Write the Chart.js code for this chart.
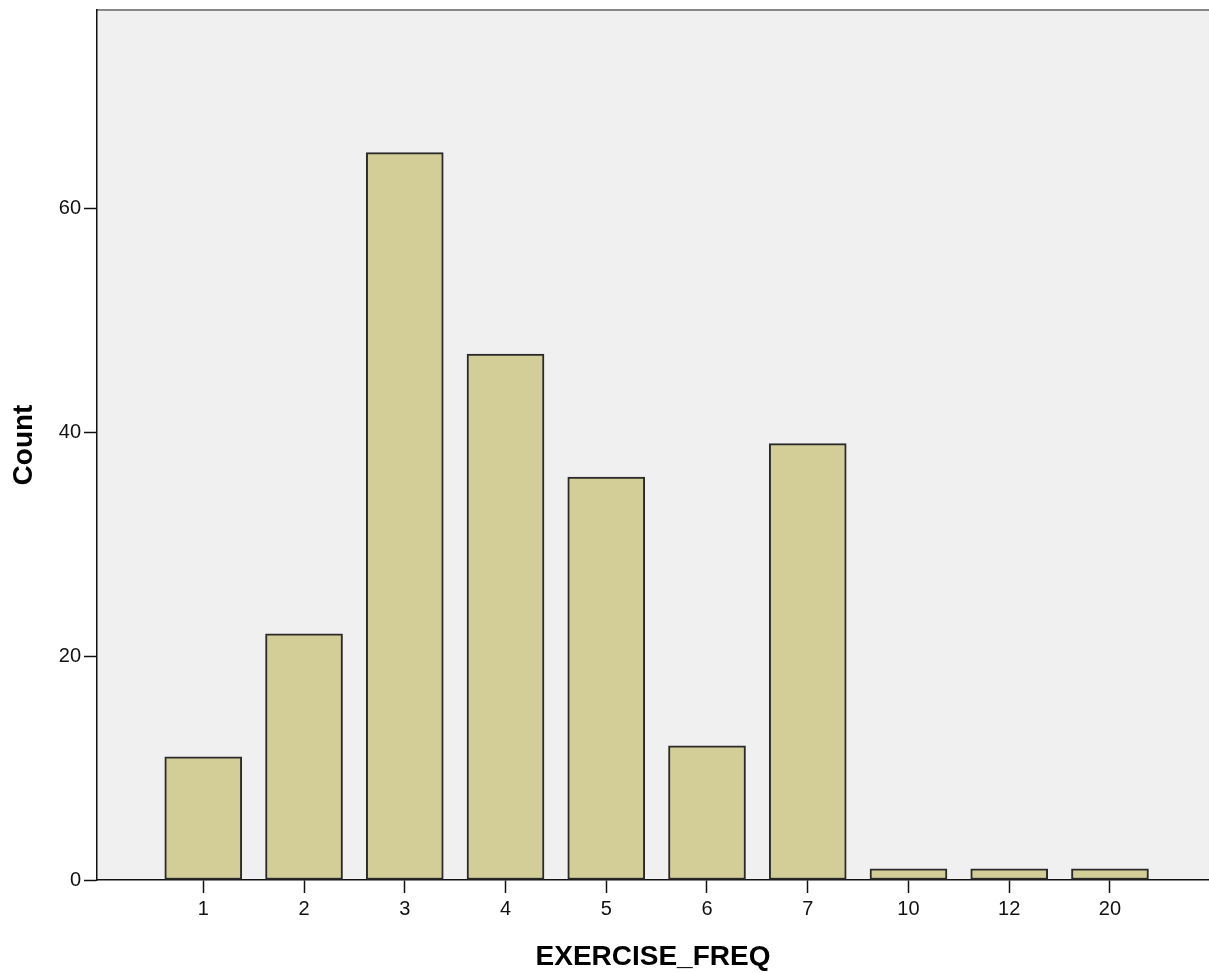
<!DOCTYPE html>
<html>
<head>
    <title>EXERCISE_FREQ</title>
    <script src="https://cdn.jsdelivr.net/npm/chart.js"></script>
    <style>
        body {
            margin: 0;
            background: #ffffff;
        }
        .chart-box {
            width: 1209px;
            height: 973px;
            position: relative;
        }
    </style>
</head>
<body>
    <div class="chart-box">
        <canvas id="freq-chart"></canvas>
    </div>

    <script>
        // categories and counts
        const freqLabels = ['1', '2', '3', '4', '5', '6', '7', '10', '12', '20'];
        const freqCounts = [11, 22, 65, 47, 36, 12, 39, 1, 1, 1];
        const countTicks = [0, 20, 40, 60];

        const points = freqLabels.map((lab, i) => ({ x: i + 1, y: freqCounts[i] }));

        // grey plot background and the thin grey frame line on top
        const plotFrame = {
            id: 'plotFrame',
            beforeDraw(chart) {
                const { ctx, chartArea: a } = chart;
                ctx.save();
                ctx.fillStyle = '#f0f0f0';
                ctx.fillRect(a.left, a.top, a.right - a.left, a.bottom - a.top);
                ctx.strokeStyle = '#888888';
                ctx.lineWidth = 2;
                ctx.beginPath();
                ctx.moveTo(a.left, a.top);
                ctx.lineTo(a.right, a.top);
                ctx.stroke();
                ctx.restore();
            }
        };

        const ctx = document.getElementById('freq-chart').getContext('2d');
        new Chart(ctx, {
            type: 'bar',
            data: {
                datasets: [{
                    label: 'Count',
                    data: points,
                    backgroundColor: '#d3ce97',
                    borderColor: '#2a2a2a',
                    borderWidth: 2,
                    borderSkipped: false,
                    barThickness: 77
                }]
            },
            options: {
                responsive: true,
                maintainAspectRatio: false,
                animation: false,
                layout: { padding: { top: 10, left: 0, right: 0, bottom: 0 } },
                plugins: {
                    legend: { display: false },
                    tooltip: { enabled: false }
                },
                scales: {
                    x: {
                        type: 'linear',
                        offset: false,
                        min: -0.055,
                        max: 10.983,
                        afterBuildTicks: (scale) => {
                            scale.ticks = freqLabels.map((lab, i) => ({ value: i + 1 }));
                        },
                        afterFit: (scale) => {
                            scale.height = 93;
                            scale.paddingLeft = 0;
                            scale.paddingRight = 0;
                        },
                        grid: {
                            offset: false,
                            drawOnChartArea: false,
                            tickLength: 13,
                            tickColor: '#111',
                            tickWidth: 1.5
                        },
                        border: { display: true, color: '#111', width: 1.5 },
                        ticks: {
                            padding: 4,
                            color: '#111',
                            font: { family: 'Liberation Sans', size: 20 },
                            callback: (v) => freqLabels[v - 1]
                        },
                        title: {
                            display: true,
                            text: 'EXERCISE_FREQ',
                            color: '#000',
                            font: { family: 'Liberation Sans', size: 28, weight: 'bold', lineHeight: 1 },
                            padding: { top: 0, bottom: 2 }
                        }
                    },
                    y: {
                        min: 0,
                        max: 77.75,
                        afterBuildTicks: (scale) => {
                            scale.ticks = countTicks.map(v => ({ value: v }));
                        },
                        afterFit: (scale) => {
                            scale.width = 97;
                            scale.paddingTop = 0;
                            scale.paddingBottom = 0;
                        },
                        grid: {
                            drawOnChartArea: false,
                            tickLength: 13,
                            tickColor: '#111',
                            tickWidth: 1.5
                        },
                        border: { display: true, color: '#111', width: 1.5 },
                        ticks: {
                            padding: 3,
                            color: '#111',
                            font: { family: 'Liberation Sans', size: 20 }
                        },
                        title: {
                            display: true,
                            text: 'Count',
                            color: '#000',
                            font: { family: 'Liberation Sans', size: 28, weight: 'bold', lineHeight: 1 },
                            padding: { top: 10, bottom: 0 }
                        }
                    }
                }
            },
            plugins: [plotFrame]
        });
    </script>
</body>
</html>
